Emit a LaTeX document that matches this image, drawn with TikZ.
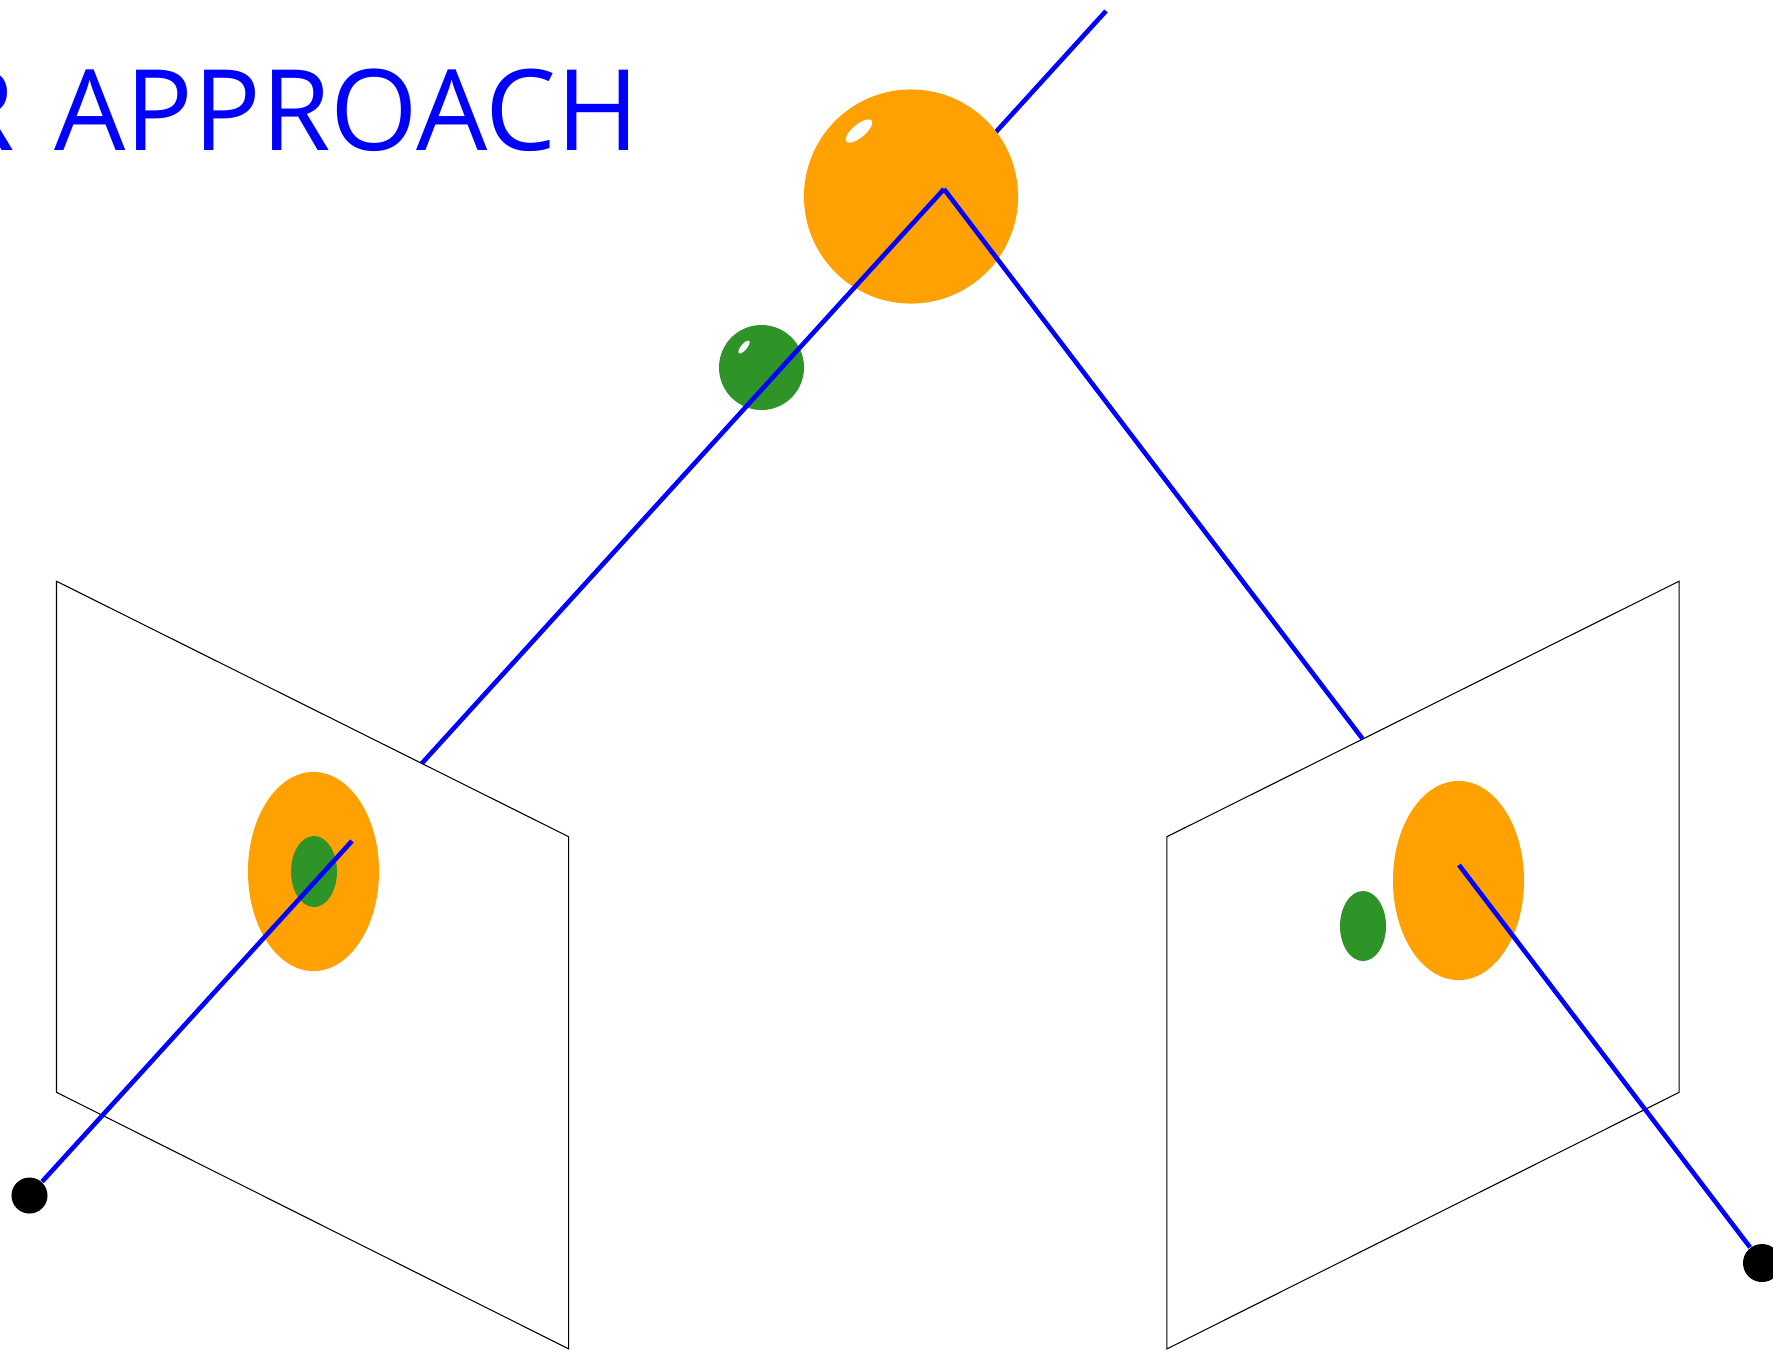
\documentclass[tikz,border=0pt]{standalone}
\usepackage{fontspec}
\setmainfont{Open Sans}
\usetikzlibrary{shapes.geometric}
\definecolor{arancio}{RGB}{255,160,3}
\definecolor{verde}{RGB}{46,148,40}
\tikzset{
    raggio/.style={draw=blue, line width=1.3pt},
    piano/.style={draw=black, fill=white, line width=0.3pt},
    macchia/.style={ellipse, inner sep=0pt},
    riflesso/.style={ellipse, fill=white, inner sep=0pt},
    camera/.style={circle, fill=black, inner sep=0pt},
}
\begin{document}
\begin{tikzpicture}[x=0.01cm, y=-0.01cm]
        \useasboundingbox (0,0) rectangle (1773,1350);

        % Titolo
        \node[text=blue, inner sep=0pt, anchor=base east, font=\fontsize{32}{36}\selectfont] (titolo) at (640,150) {R\kern3pt\ APPROACH};

        % Piani immagine
        \draw[piano] (56.5,581.2) -- (568.7,836.7) -- (568.7,1348.9) -- (56.5,1092.3) -- cycle;
        \draw[piano] (1166.9,836.7) -- (1679.1,581.2) -- (1679.1,1092.3) -- (1166.9,1348.9) -- cycle;

        % Proiezioni sui piani
        \node[macchia, fill=arancio, minimum width=1.31cm, minimum height=1.99cm] (arancioL) at (313.5,871.5) {};
        \node[macchia, fill=verde, minimum width=0.46cm, minimum height=0.71cm] (verdeL) at (314,871.5) {};
        \node[macchia, fill=arancio, minimum width=1.31cm, minimum height=1.99cm] (arancioR) at (1458.5,880.5) {};
        \node[macchia, fill=verde, minimum width=0.46cm, minimum height=0.70cm] (verdeR) at (1363,926) {};

        % Punti dei raggi
        \coordinate (apice) at (944,189);
        \coordinate (cima) at (1106,11);
        \coordinate (bordoL) at (421.7,763.5);
        \coordinate (bordoR) at (1362.5,738.7);
        \coordinate (puntoL) at (352,841);
        \coordinate (puntoR) at (1459,865);

        % Camere
        \node[camera, minimum size=0.36cm] (camL) at (29.5,1195.5) {};
        \node[camera, minimum size=0.38cm] (camR) at (1762,1263) {};

        % Raggio dietro la palla
        \draw[raggio] (apice) -- (cima);

        % Palle
        \node[circle, fill=arancio, inner sep=0pt, minimum size=2.14cm] (palla) at (911,196.5) {};
        \node[riflesso, minimum width=0.33cm, minimum height=0.13cm, rotate=40] (lucePalla) at (859,131) {};
        \node[circle, fill=verde, inner sep=0pt, minimum size=0.85cm] (pallina) at (761.5,367.5) {};
        \node[riflesso, minimum width=0.16cm, minimum height=0.06cm, rotate=50] (lucePallina) at (744,347) {};

        % Raggi
        \draw[raggio] (bordoL) -- (apice); % verso la camera sinistra
        \draw[raggio] (apice) -- (bordoR); % verso la camera destra
        \draw[raggio] (camL) -- (puntoL);
        \draw[raggio] (puntoR) -- (camR);

\end{tikzpicture}
\end{document}
